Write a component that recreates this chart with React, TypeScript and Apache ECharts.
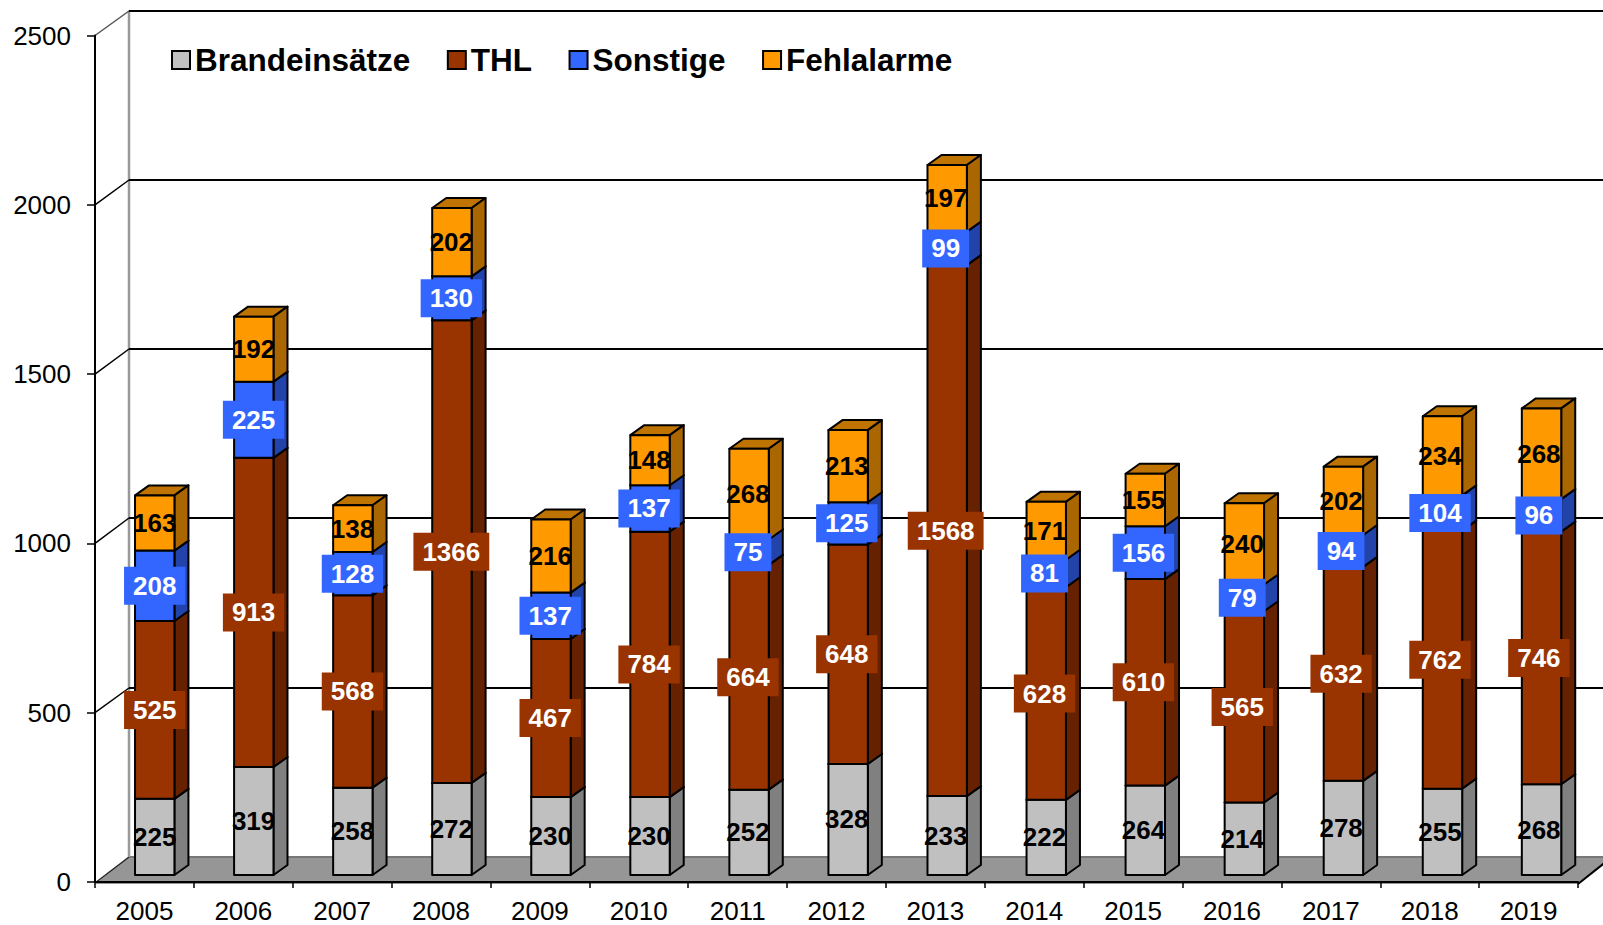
import React, { useEffect, useRef } from "react";
import * as echarts from "echarts";

const years = ["2005","2006","2007","2008","2009","2010","2011","2012","2013","2014","2015","2016","2017","2018","2019"];
const brand = [225,319,258,272,230,230,252,328,233,222,264,214,278,255,268];
const thl = [525,913,568,1366,467,784,664,648,1568,628,610,565,632,762,746];
const sonstige = [208,225,128,130,137,137,75,125,99,81,156,79,94,104,96];
const fehl = [163,192,138,202,216,148,268,213,197,171,155,240,202,234,268];
const yTicks = [0,500,1000,1500,2000,2500];

const seriesDefs = [
  { name: "Brandeinsätze", values: brand, front: "#C0C0C0", side: "#808080", top: "#969696", box: "", text: "#000" },
  { name: "THL", values: thl, front: "#993300", side: "#662200", top: "#732600", box: "#993300", text: "#fff" },
  { name: "Sonstige", values: sonstige, front: "#3366FF", side: "#2244AA", top: "#264DBF", box: "#3366FF", text: "#fff" },
  { name: "Fehlalarme", values: fehl, front: "#FF9900", side: "#AA6600", top: "#BF7300", box: "", text: "#000" },
];

const FONT = "'Liberation Sans', Arial, sans-serif";
const WALL_DX = 34, WALL_DY = -25, FLOOR_DY = -25;
const FACE_LIFT = -7, BAR_HALF = 19.7, SIDE_DX = 14, SIDE_DY = -10, LABEL_SHIFT = 10.3;
const faceShift = (i: number) => 10.3 + i * 0.19;

function wallItem(params: any, api: any) {
  const v = api.value(0);
  const cs = params.coordSys;
  const L = cs.x, R = cs.x + cs.width;
  const y = api.coord([0, v])[1];
  const kids: any[] = [];
  if (v === 0) {
    const fy = y + 2;
    const by = y + FLOOR_DY;
    kids.push({ type: "polygon", shape: { points: [[L, fy], [R, fy], [R + WALL_DX, by], [L + WALL_DX, by]] }, style: { fill: "#969696" } });
    kids.push({ type: "line", shape: { x1: L + WALL_DX, y1: by, x2: R + WALL_DX, y2: by }, style: { stroke: "#777", lineWidth: 2 } });
    kids.push({ type: "line", shape: { x1: L, y1: y + 1, x2: L + WALL_DX, y2: by }, style: { stroke: "#222", lineWidth: 1.5 } });
    kids.push({ type: "line", shape: { x1: R, y1: fy, x2: R + WALL_DX, y2: by }, style: { stroke: "#000", lineWidth: 2 } });
    const topY = api.coord([0, yTicks[yTicks.length - 1]])[1] + WALL_DY;
    kids.push({ type: "line", shape: { x1: L + WALL_DX, y1: topY, x2: L + WALL_DX, y2: by }, style: { stroke: "#999", lineWidth: 2.5 } });
  } else {
    const top = v === yTicks[yTicks.length - 1];
    const by = Math.round(y + WALL_DY);
    kids.push({ type: "line", shape: { x1: L, y1: y, x2: L + WALL_DX, y2: by }, style: { stroke: top ? "#555" : "#000", lineWidth: 1.5 } });
    kids.push({ type: "line", shape: { x1: L + WALL_DX, y1: by, x2: R + WALL_DX, y2: by }, style: { stroke: "#000", lineWidth: 2 } });
  }
  return { type: "group", children: kids };
}

function barItem(def: any) {
  return (_params: any, api: any) => {
    const i = api.value(0);
    const cx = api.coord([i, 0])[0] + faceShift(i);
    const y0 = api.coord([i, api.value(1)])[1] + FACE_LIFT;
    const y1 = api.coord([i, api.value(2)])[1] + FACE_LIFT;
    const l = cx - BAR_HALF, r = cx + BAR_HALF;
    const line = { stroke: "#000", lineWidth: 2, lineJoin: "round" };
    return {
      type: "group",
      children: [
        { type: "polygon", shape: { points: [[l, y1], [r, y1], [r + SIDE_DX, y1 + SIDE_DY], [l + SIDE_DX, y1 + SIDE_DY]] }, style: { fill: def.top, ...line } },
        { type: "polygon", shape: { points: [[r, y0], [r, y1], [r + SIDE_DX, y1 + SIDE_DY], [r + SIDE_DX, y0 + SIDE_DY]] }, style: { fill: def.side, ...line } },
        { type: "rect", shape: { x: l, y: y1, width: r - l, height: y0 - y1 }, style: { fill: def.front, ...line } },
      ],
    };
  };
}

function labelItem(def: any) {
  return (_params: any, api: any) => {
    const i = api.value(0);
    const p = api.coord([i, api.value(1)]);
    return {
      type: "text",
      x: p[0] + LABEL_SHIFT,
      y: p[1] + FACE_LIFT,
      style: {
        text: String(api.value(2)),
        fill: def.text,
        font: `bold 26px ${FONT}`,
        align: "center",
        verticalAlign: "middle",
        ...(def.box ? { backgroundColor: def.box, padding: [6, 9, 6, 9] } : {}),
      },
    };
  };
}

export default function App() {
  const ref = useRef<HTMLDivElement>(null);
  useEffect(() => {
    document.body.style.margin = "0";
    const chart = echarts.init(ref.current!, undefined, { renderer: "svg" });
    const base = new Array(years.length).fill(0);
    const barSeries: any[] = [];
    const labelSeries: any[] = [];
    seriesDefs.forEach((def) => {
      const rows = def.values.map((v, i) => {
        const s = base[i];
        base[i] += v;
        return { i, s, e: s + v, v };
      });
      barSeries.push({
        type: "custom", name: def.name, coordinateSystem: "cartesian2d", z: 3,
        itemStyle: { color: def.front }, silent: true,
        encode: { x: 0, y: [1, 2] },
        data: rows.map((r) => [r.i, r.s, r.e]),
        renderItem: barItem(def),
      });
      labelSeries.push({
        type: "custom", name: def.name + " Werte", coordinateSystem: "cartesian2d", z: 5, silent: true,
        encode: { x: 0, y: 1 },
        data: rows.map((r) => [r.i, (r.s + r.e) / 2, r.v]),
        renderItem: labelItem(def),
      });
    });
    chart.setOption({
      animation: false,
      backgroundColor: "#fff",
      legend: {
        data: seriesDefs.map((d) => d.name),
        left: 166, top: 39, icon: "rect", itemWidth: 18, itemHeight: 18, itemGap: 36.5,
        itemStyle: { borderColor: "#000", borderWidth: 2 },
        textStyle: { fontFamily: FONT, fontSize: 31.5, fontWeight: "bold", color: "#000" },
        selectedMode: false,
      },
      grid: { left: 95, top: 35.5, width: 1483, height: 846.5, containLabel: false },
      xAxis: {
        type: "category", data: years, offset: 1.5, z: 2,
        axisLine: { show: true, lineStyle: { color: "#000", width: 2 } },
        axisTick: { show: true, alignWithLabel: false, length: 6, lineStyle: { color: "#000", width: 1.5 } },
        axisLabel: { fontFamily: FONT, fontSize: 26, lineHeight: 22, color: "#000", margin: 16.5 },
      },
      yAxis: {
        type: "value", min: 0, max: 2500, interval: 500, z: 2,
        splitLine: { show: false },
        axisLine: { show: true, lineStyle: { color: "#000", width: 2 } },
        axisTick: { show: true, length: 8, lineStyle: { color: "#000", width: 1.5 } },
        axisLabel: { fontFamily: FONT, fontSize: 26, color: "#000", margin: 24, formatter: (v: number) => String(v) },
      },
      series: [
        {
          type: "custom", name: "Wand", coordinateSystem: "cartesian2d", z: 1, silent: true,
          encode: { y: 0 },
          data: yTicks.map((t) => [t]),
          renderItem: wallItem,
        },
        ...barSeries,
        ...labelSeries,
      ],
    });
    return () => chart.dispose();
  }, []);
  return <div ref={ref} style={{ width: 1603, height: 925 }} />;
}
